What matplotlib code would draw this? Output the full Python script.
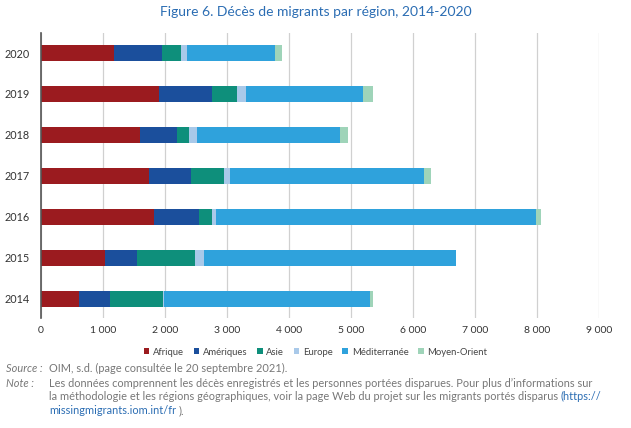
import numpy as np
import matplotlib.pyplot as plt
from matplotlib.ticker import FuncFormatter

plt.rcParams['font.family'] = ['Lato', 'DejaVu Sans']

# Data section ------------------------------
years = ['2014', '2015', '2016', '2017', '2018', '2019', '2020']
regions = ['Afrique', 'Amériques', 'Asie', 'Europe', 'Méditerranée', 'Moyen-Orient']
afrique = [608, 1027, 1823, 1737, 1597, 1909, 1177]
ameriques = [500, 516, 725, 677, 591, 849, 780]
asie = [865, 946, 215, 532, 204, 398, 306]
europe = [10, 145, 60, 97, 119, 145, 87]
mediterranee = [3329, 4065, 5166, 3140, 2306, 1887, 1430]
moyen_orient = [37, 0, 81, 102, 135, 167, 107]
colors = ['#9b1b1f', '#1b4f9c', '#0e8f7b', '#a9c9e9', '#2fa2dc', '#9fd4b9']

series = [afrique, ameriques, asie, europe, mediterranee, moyen_orient]

# Plot section ------------------------------
fig = plt.figure(figsize=(6.31, 4.28), dpi=100)
ax = fig.add_axes([0.065, 0.257, 0.884, 0.666])

y = np.arange(len(years))
left = np.zeros(len(years))
for name, vals, c in zip(regions, series, colors):
    ax.barh(y, vals, left=left, height=0.39, color=c, label=name)
    left += np.array(vals)

ax.set_xlim(0, 9000)
ax.set_ylim(-0.47, 6.49)
ax.set_yticks(y)
ax.set_yticklabels(years, fontsize=7.8, color='#333333')
ax.set_xticks(np.arange(0, 9001, 1000))
ax.xaxis.set_major_formatter(FuncFormatter(lambda v, p: '{:,}'.format(int(v)).replace(',', '\u202f') if v else '0'))
ax.tick_params(axis='x', labelsize=7.5, colors='#333333', length=0, pad=6)
ax.tick_params(axis='y', length=0, pad=8)
ax.grid(axis='x', color='#d0d0d0', linewidth=0.9)
ax.set_axisbelow(True)
for s in ['top', 'right', 'bottom']:
    ax.spines[s].set_visible(False)
ax.spines['left'].set_color('#555555')
ax.spines['left'].set_linewidth(1.2)

fig.text(0.5, 0.972, 'Figure 6. Décès de migrants par région, 2014-2020',
         ha='center', va='center', fontsize=10, color='#2b6db3')

leg = fig.legend(loc='center', bbox_to_anchor=(0.5, 0.177), ncol=6, frameon=False,
                 fontsize=6.8, handlelength=0.6, handleheight=0.6, handletextpad=0.4,
                 columnspacing=1.0)
for t in leg.get_texts():
    t.set_color('#444444')

# Notes section ------------------------------
grey = '#777777'
blue = '#2b6db3'
fs = 7.9
x0 = 0.078
fig.text(0.010, 0.138, 'Source :', fontsize=fs, color=grey, style='italic', va='center')
fig.text(x0, 0.138, 'OIM, s.d. (page consultée le 20 septembre 2021).', fontsize=fs, color=grey, va='center')
fig.text(0.010, 0.105, 'Note :', fontsize=fs, color=grey, style='italic', va='center')
fig.text(x0, 0.105, 'Les données comprennent les décès enregistrés et les personnes portées disparues. '
         'Pour plus d\u2019informations sur', fontsize=fs, color=grey, va='center')

def chain(parts, ypos):
    fig.canvas.draw()
    r = fig.canvas.get_renderer()
    xx = x0
    for txt, col in parts:
        t = fig.text(xx, ypos, txt, fontsize=fs, color=col, va='center')
        bb = t.get_window_extent(renderer=r)
        xx = bb.x1 / fig.bbox.width + 0.004

chain([('la méthodologie et les régions géographiques, voir la page Web du projet sur '
        'les migrants portés disparus', grey), ('(https://', blue)], 0.073)
chain([('missingmigrants.iom.int/fr', blue), (').', grey)], 0.041)

plt.savefig('out.png', dpi=100)
